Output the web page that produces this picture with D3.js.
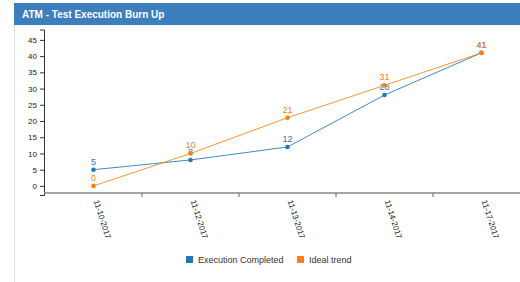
<!DOCTYPE html>
<html lang="en">
<head>
  <meta charset="UTF-8">
  <title>ATM - Test Execution Burn Up</title>
  <style>
    html, body { margin: 0; padding: 0; background: #fff; }
    svg { display: block; font-family: "Liberation Sans", Arial, sans-serif; }
    .y-axis text, .x-axis text { font-size: 8px; fill: #222; }
    .val { font-size: 9px; text-anchor: middle; }
    .legend text { font-size: 9px; fill: #333; }
  </style>
</head>
<body>
  <svg class="chart"></svg>
  <script src="https://cdnjs.cloudflare.com/ajax/libs/d3/7.8.5/d3.min.js"></script>
  <script>
    // data
    const dates = ['11-10-2017', '11-12-2017', '11-13-2017', '11-14-2017', '11-17-2017'];
    const executed = [5, 8, 12, 28, 41];
    const ideal = [0, 10, 21, 31, 41];
    const yTicks = [0, 5, 10, 15, 20, 25, 30, 35, 40, 45];
    const seriesNames = ['Execution Completed', 'Ideal trend'];
    const colors = ['#1f77b4', '#ff7f0e'];

    const width = 520, height = 282;
    const svg = d3.select('svg.chart').attr('width', width).attr('height', height);

    // panel + header
    svg.append('line')
      .attr('x1', 14.5).attr('x2', 14.5).attr('y1', 3).attr('y2', height)
      .attr('stroke', '#ddd');
    svg.append('rect')
      .attr('x', 14).attr('y', 3).attr('width', width - 14).attr('height', 22)
      .attr('fill', '#3d7ebd');
    svg.append('text')
      .attr('x', 22).attr('y', 17.5)
      .attr('fill', '#fff').attr('font-size', '10px').attr('font-weight', 'bold')
      .text('ATM - Test Execution Burn Up');

    // scales
    const x = d3.scaleBand().domain(dates).range([45, 530]);
    const y = d3.scaleLinear().domain([-2.8, 48.2]).range([195, 29.5]);
    const cx = d => x(d) + x.bandwidth() / 2;

    // y axis
    const yAxis = svg.append('g').attr('class', 'y-axis')
      .attr('transform', 'translate(44,0)')
      .call(d3.axisLeft(y).tickValues(yTicks).tickSize(4).tickSizeOuter(4).tickPadding(3));
    yAxis.selectAll('path, line').attr('stroke', '#333');

    // x axis
    const xAxis = svg.append('g').attr('class', 'x-axis')
      .attr('transform', 'translate(0,193)')
      .call(d3.axisBottom(x).tickSizeOuter(0).tickSize(4));
    xAxis.select('.domain').attr('stroke', '#888').attr('stroke-width', 1.5)
      .attr('d', 'M44,0H' + width);
    xAxis.selectAll('.tick line').attr('x1', x.bandwidth() / 2).attr('x2', x.bandwidth() / 2)
      .attr('stroke', '#666');
    xAxis.selectAll('.tick text')
      .attr('text-anchor', 'start')
      .attr('dy', 0).attr('y', 0)
      .attr('transform', 'translate(0,8) rotate(72)');

    // lines, dots, values
    [executed, ideal].forEach((vals, k) => {
      const pts = dates.map((d, i) => [cx(d), y(vals[i])]);
      svg.append('path')
        .attr('d', d3.line()(pts))
        .attr('fill', 'none').attr('stroke', colors[k]).attr('stroke-width', 1)
        .attr('stroke-opacity', 0.85);
      svg.append('g').selectAll('circle').data(pts).join('circle')
        .attr('cx', p => p[0]).attr('cy', p => p[1]).attr('r', 2.3)
        .attr('fill', colors[k]);
      svg.append('g').selectAll('text').data(vals).join('text')
        .attr('class', 'val')
        .attr('x', (v, i) => cx(dates[i])).attr('y', v => y(v) - 5)
        .attr('fill', colors[k])
        .text(v => v);
    });

    // legend
    const legend = svg.append('g').attr('class', 'legend');
    const lx = [186, 297];
    seriesNames.forEach((n, k) => {
      legend.append('rect').attr('x', lx[k]).attr('y', 256).attr('width', 7).attr('height', 7)
        .attr('fill', colors[k]);
      legend.append('text').attr('x', lx[k] + 12).attr('y', 263).text(n);
    });
  </script>
</body>
</html>
